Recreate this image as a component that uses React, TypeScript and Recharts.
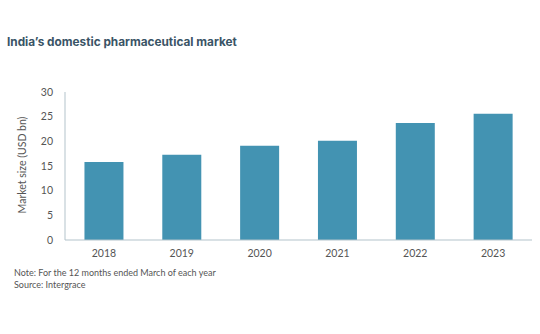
import { BarChart, Bar, XAxis, YAxis } from "recharts";

const years = ["2018", "2019", "2020", "2021", "2022", "2023"];
const marketSize = [15.8, 17.3, 19.1, 20.1, 23.7, 25.6];
const yTicks = [0, 5, 10, 15, 20, 25, 30];

const data = years.map((year, i) => ({ year, value: marketSize[i] }));

const AXIS = "#b3c3cb";
const TICK = { fill: "#555", fontSize: 10.5, fontFamily: "Lato, sans-serif" };

export default function App() {
  return (
    <div
      style={{
        position: "absolute",
        left: 0,
        top: 0,
        width: 540,
        height: 334,
        background: "#fff",
        fontFamily: "Lato, sans-serif",
      }}
    >
      <div
        style={{
          position: "absolute",
          left: 7,
          top: 35,
          fontFamily: "Inter, sans-serif",
          fontWeight: 700,
          fontSize: 11.8,
          color: "#3a5466",
        }}
      >
        India’s domestic pharmaceutical market
      </div>

      {/* y-axis title */}
      <div
        style={{
          position: "absolute",
          left: 22,
          top: 165,
          transform: "translate(-50%, -50%) rotate(-90deg)",
          whiteSpace: "nowrap",
          fontSize: 10.5,
          color: "#555",
        }}
      >
        Market size (USD bn)
      </div>

      <div style={{ position: "absolute", left: 0, top: 0 }}>
        <BarChart
          width={540}
          height={334}
          data={data}
          margin={{ top: 92, right: 8, bottom: 74, left: 0 }}
          barCategoryGap="25%"
        >
          <XAxis
            dataKey="year"
            stroke={AXIS}
            tickLine={false}
            tick={TICK}
            tickMargin={4}
            height={20}
          />
          <YAxis
            domain={[0, 30]}
            ticks={yTicks}
            stroke={AXIS}
            tickLine={false}
            tick={TICK}
            tickMargin={6}
            width={65}
          />
          <Bar dataKey="value" fill="#4393b2" isAnimationActive={false} />
        </BarChart>
      </div>

      <div
        style={{
          position: "absolute",
          left: 14,
          top: 267,
          fontSize: 9,
          lineHeight: "12px",
          color: "#555",
        }}
      >
        Note: For the 12 months ended March of each year
        <br />
        Source: Intergrace
      </div>
    </div>
  );
}
